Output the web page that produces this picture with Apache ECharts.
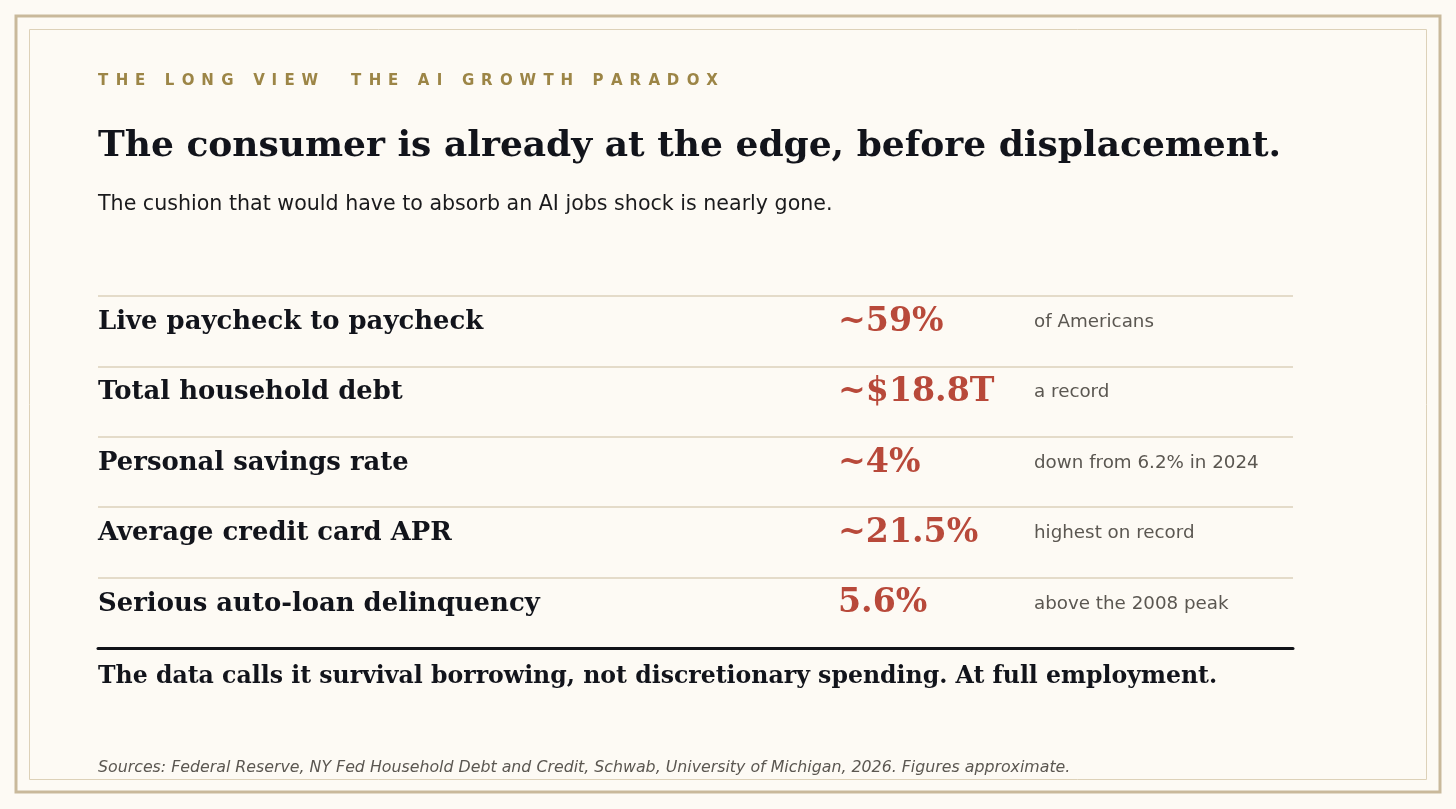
<!DOCTYPE html>
<html>
<head>
<meta charset="utf-8">
<script src="https://cdn.jsdelivr.net/npm/echarts@6/dist/echarts.min.js"></script>
<style>
html,body{margin:0;padding:0;background:#fdfaf4;}
#chart{width:1456px;height:809px;}
</style>
</head>
<body>
<div id="chart"></div>
<script>
// ---- data ----
const metrics = ['Live paycheck to paycheck', 'Total household debt', 'Personal savings rate', 'Average credit card APR', 'Serious auto-loan delinquency'];
const values = ['~59%', '~$18.8T', '~4%', '~21.5%', '5.6%'];
const notes = ['of Americans', 'a record', 'down from 6.2% in 2024', 'highest on record', 'above the 2008 peak'];
const kickerA = 'THE LONG VIEW';
const kickerB = 'THE AI GROWTH PARADOX';
const headline = 'The consumer is already at the edge, before displacement.';
const subtitle = 'The cushion that would have to absorb an AI jobs shock is nearly gone.';
const footline = 'The data calls it survival borrowing, not discretionary spending. At full employment.';
const sources = 'Sources: Federal Reserve, NY Fed Household Debt and Credit, Schwab, University of Michigan, 2026. Figures approximate.';

// ---- styling ----
const SERIF = 'DejaVu Serif';
const SANS = 'DejaVu Sans';
const INK = '#12141b';
const RED = '#b8493a';
const GREY = '#5b5751';
const GOLD = '#9c8546';
const VALUE_COL = 740;
const NOTE_COL = 936;
const ROW_SHIFT = -9;

// letter-spaced caps: alternate en space and (four-per-em + thin) space
function spaced(s) {
  const chars = s.split('');
  let out = chars[0];
  for (let k = 1; k < chars.length; k++) {
    out += (k % 2 ? '\u2002' : '\u2005\u2009') + chars[k];
  }
  return out;
}

const chart = echarts.init(document.getElementById('chart'), null, {renderer: 'canvas'});

const option = {
  backgroundColor: '#fdfaf4',
  animation: false,
  grid: {left: 98, right: 163, top: 296, bottom: 161},
  xAxis: {
    type: 'value', min: 0, max: 1,
    axisLine: {show: true, lineStyle: {color: '#111318', width: 3}},
    axisTick: {show: false}, axisLabel: {show: false}, splitLine: {show: false}
  },
  yAxis: {
    type: 'category', inverse: true, data: metrics,
    axisLine: {show: false}, axisTick: {show: false}, axisLabel: {show: false},
    splitLine: {show: true, lineStyle: {color: '#e4dbc9', width: 2}}
  },
  graphic: [
    {type: 'rect', shape: {x: 16, y: 16, width: 1424, height: 776}, style: {fill: 'none', stroke: '#c9b99b', lineWidth: 3}, silent: true},
    {type: 'rect', shape: {x: 29.5, y: 29.5, width: 1397, height: 750}, style: {fill: 'none', stroke: '#ddd1b8', lineWidth: 1}, silent: true},
    {type: 'text', x: 98, y: 81, style: {text: spaced(kickerA), fill: GOLD, fontFamily: SANS, fontWeight: 'bold', fontSize: 15, verticalAlign: 'middle'}},
    {type: 'text', x: 351, y: 81, style: {text: spaced(kickerB), fill: GOLD, fontFamily: SANS, fontWeight: 'bold', fontSize: 15, verticalAlign: 'middle'}},
    {type: 'text', x: 98, y: 147, style: {text: headline, fill: INK, fontFamily: SERIF, fontWeight: 'bold', fontSize: 36, verticalAlign: 'middle'}},
    {type: 'text', x: 98, y: 205, style: {text: subtitle, fill: '#1a1a1c', fontFamily: SANS, fontSize: 20.6, verticalAlign: 'middle'}},
    {type: 'text', x: 98, y: 677, style: {text: footline, fill: INK, fontFamily: SERIF, fontWeight: 'bold', fontSize: 23.6, verticalAlign: 'middle'}},
    {type: 'text', x: 98, y: 768, style: {text: sources, fill: GREY, fontFamily: SANS, fontStyle: 'italic', fontSize: 15.8, verticalAlign: 'middle'}}
  ],
  series: [{
    type: 'custom',
    coordinateSystem: 'cartesian2d',
    data: metrics.map((m, i) => [0, i]),
    renderItem: function (params, api) {
      const i = api.value(1);
      const pt = api.coord([0, i]);
      const x0 = params.coordSys.x;
      const y = pt[1] + ROW_SHIFT;
      return {
        type: 'group',
        children: [
          {type: 'text', style: {text: metrics[i], x: x0, y: y, fill: INK, fontFamily: SERIF, fontWeight: 'bold', fontSize: 25.9, align: 'left', verticalAlign: 'middle'}},
          {type: 'text', style: {text: values[i], x: x0 + VALUE_COL, y: y, fill: RED, fontFamily: SERIF, fontWeight: 'bold', fontSize: 33.2, align: 'left', verticalAlign: 'middle'}},
          {type: 'text', style: {text: notes[i], x: x0 + NOTE_COL, y: y, fill: GREY, fontFamily: SANS, fontSize: 18.3, align: 'left', verticalAlign: 'middle'}}
        ]
      };
    }
  }]
};
chart.setOption(option);
</script>
</body>
</html>
